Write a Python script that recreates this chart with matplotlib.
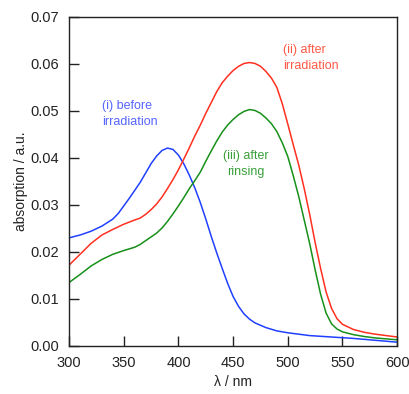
import matplotlib
matplotlib.use("Agg")
import matplotlib.pyplot as plt

plt.rcParams['font.family'] = ['Liberation Sans', 'DejaVu Sans']

# (i) before irradiation
wl_blue = [300, 310, 320, 330, 340, 345, 350, 355, 360, 365, 370, 375, 380, 385, 390,
           395, 400, 405, 410, 415, 420, 425, 430, 435, 440, 445, 450, 455, 460, 465,
           470, 480, 490, 500, 520, 540, 560, 580, 600]
abs_blue = [0.0230, 0.0236, 0.0244, 0.0255, 0.0270, 0.0282, 0.0298, 0.0314, 0.0331,
            0.0348, 0.0368, 0.0388, 0.0404, 0.0416, 0.0421, 0.0418, 0.0406, 0.0387,
            0.0363, 0.0336, 0.0305, 0.0270, 0.0233, 0.0198, 0.0165, 0.0133, 0.0105,
            0.0084, 0.0068, 0.0057, 0.0049, 0.0039, 0.0032, 0.0028, 0.0022, 0.0019,
            0.0016, 0.0012, 0.0008]

# (ii) after irradiation
wl_red = [300, 310, 320, 330, 340, 350, 360, 365, 370, 375, 380, 385, 390, 395, 400,
          405, 410, 415, 420, 425, 430, 435, 440, 445, 450, 455, 460, 465, 470, 475,
          480, 485, 490, 495, 500, 505, 510, 515, 520, 525, 530, 535, 540, 545, 550,
          560, 570, 580, 590, 600]
abs_red = [0.0172, 0.0195, 0.0218, 0.0236, 0.0248, 0.0259, 0.0268, 0.0272, 0.0280,
           0.0290, 0.0302, 0.0317, 0.0335, 0.0354, 0.0375, 0.0398, 0.0422, 0.0447,
           0.0470, 0.0495, 0.0518, 0.0541, 0.0560, 0.0574, 0.0586, 0.0595, 0.0601,
           0.0603, 0.0601, 0.0595, 0.0584, 0.0570, 0.0550, 0.0515, 0.0472, 0.0428,
           0.0385, 0.0335, 0.0280, 0.0220, 0.0165, 0.0115, 0.0080, 0.0058, 0.0046,
           0.0035, 0.0029, 0.0025, 0.0022, 0.0019]

# (iii) after rinsing
wl_green = wl_red
abs_green = [0.0135, 0.0152, 0.0170, 0.0184, 0.0195, 0.0203, 0.0210, 0.0216, 0.0224,
             0.0232, 0.0240, 0.0251, 0.0265, 0.0281, 0.0298, 0.0316, 0.0335, 0.0352,
             0.0370, 0.0393, 0.0415, 0.0436, 0.0455, 0.0470, 0.0482, 0.0492, 0.0499,
             0.0503, 0.0501, 0.0495, 0.0485, 0.0473, 0.0456, 0.0432, 0.0403, 0.0362,
             0.0318, 0.0268, 0.0218, 0.0162, 0.0110, 0.0070, 0.0047, 0.0036, 0.0030,
             0.0024, 0.0020, 0.0017, 0.0015, 0.0013]

fig = plt.figure(figsize=(4.09, 3.94), dpi=100)
ax = fig.add_axes([0.169, 0.122, 0.802, 0.835])

ax.plot(wl_blue, abs_blue, color='#2040ff', lw=1.1)
ax.plot(wl_red, abs_red, color='#ff3020', lw=1.1)
ax.plot(wl_green, abs_green, color='#17901a', lw=1.1)

ax.text(330, 0.0494, '(i) before\nirradiation', color='#5565ff', fontsize=9,
        ha='left', va='center', linespacing=1.45)
ax.text(496, 0.0613, '(ii) after\nirradiation', color='#ff5a45', fontsize=9,
        ha='left', va='center', linespacing=1.45)
ax.text(462, 0.0387, '(iii) after\nrinsing', color='#38a038', fontsize=9,
        ha='center', va='center', linespacing=1.45)

ax.set_xlim(300, 600)
ax.set_ylim(0, 0.07)
ax.set_xticks([300, 350, 400, 450, 500, 550, 600])
ax.set_yticks([0.00, 0.01, 0.02, 0.03, 0.04, 0.05, 0.06, 0.07])
ax.set_yticklabels(['0.00', '0.01', '0.02', '0.03', '0.04', '0.05', '0.06', '0.07'])
ax.tick_params(direction='in', length=7, width=1, colors='#222222',
               labelsize=10.5, pad=7)
for s in ax.spines.values():
    s.set_color('#222222')
    s.set_linewidth(1)

ax.set_xlabel('λ / nm', fontsize=10, color='#222222', labelpad=4)
ax.set_ylabel('absorption / a.u.', fontsize=10, color='#222222', labelpad=2)

fig.savefig('out.png', dpi=100)
